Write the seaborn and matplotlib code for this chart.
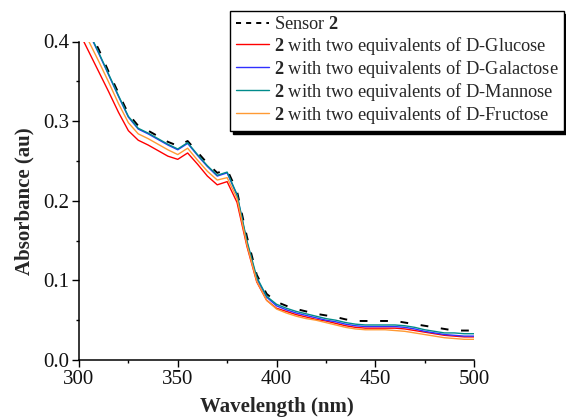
import numpy as np
import pandas as pd
import matplotlib
matplotlib.use("Agg")
import matplotlib.pyplot as plt
import seaborn as sns

wavelength = list(range(300, 505, 5))

sensor = [0.440, 0.415, 0.390, 0.362, 0.335, 0.309, 0.294, 0.288, 0.281, 0.274,
          0.269, 0.275, 0.261, 0.247, 0.235, 0.239, 0.212, 0.155, 0.107, 0.083,
          0.073, 0.068, 0.064, 0.061, 0.058, 0.056, 0.054, 0.051, 0.049, 0.049,
          0.049, 0.049, 0.049, 0.047, 0.045, 0.043, 0.041, 0.039, 0.037, 0.037, 0.037]

glucose = [0.412, 0.387, 0.362, 0.337, 0.311, 0.288, 0.276, 0.270, 0.263, 0.256,
           0.252, 0.260, 0.246, 0.231, 0.220, 0.224, 0.198, 0.143, 0.098, 0.075,
           0.065, 0.061, 0.057, 0.054, 0.051, 0.049, 0.046, 0.043, 0.041, 0.040,
           0.040, 0.040, 0.040, 0.039, 0.037, 0.035, 0.033, 0.031, 0.030, 0.029, 0.029]

galactose = [0.437, 0.411, 0.385, 0.358, 0.331, 0.305, 0.290, 0.284, 0.277, 0.270,
             0.264, 0.272, 0.257, 0.243, 0.231, 0.235, 0.207, 0.148, 0.102, 0.079,
             0.068, 0.063, 0.059, 0.056, 0.053, 0.050, 0.048, 0.045, 0.043, 0.042,
             0.042, 0.042, 0.042, 0.041, 0.039, 0.036, 0.034, 0.032, 0.031, 0.030, 0.030]

mannose = [0.438, 0.412, 0.386, 0.359, 0.332, 0.306, 0.291, 0.285, 0.278, 0.271,
           0.265, 0.273, 0.258, 0.244, 0.232, 0.236, 0.208, 0.150, 0.104, 0.080,
           0.070, 0.065, 0.061, 0.058, 0.055, 0.052, 0.050, 0.047, 0.045, 0.044,
           0.044, 0.044, 0.044, 0.043, 0.041, 0.038, 0.036, 0.034, 0.034, 0.033, 0.033]

fructose = [0.425, 0.400, 0.375, 0.349, 0.322, 0.298, 0.284, 0.278, 0.271, 0.264,
            0.258, 0.266, 0.251, 0.237, 0.226, 0.229, 0.203, 0.145, 0.099, 0.075,
            0.064, 0.059, 0.055, 0.052, 0.050, 0.047, 0.044, 0.041, 0.039, 0.038,
            0.038, 0.038, 0.037, 0.036, 0.034, 0.032, 0.030, 0.028, 0.027, 0.026, 0.026]

labels = [r"Sensor $\mathbf{2}$",
          r"$\mathbf{2}$ with two equivalents of D-Glucose",
          r"$\mathbf{2}$ with two equivalents of D-Galactose",
          r"$\mathbf{2}$ with two equivalents of D-Mannose",
          r"$\mathbf{2}$ with two equivalents of D-Fructose"]
series = [sensor, glucose, galactose, mannose, fructose]
colors = ["black", "#ff0000", "#3030ff", "#008b8b", "#ff9a33"]

sns.set_theme(style="ticks")
plt.rcParams["font.family"] = ["Liberation Serif", "DejaVu Serif"]
plt.rcParams["mathtext.fontset"] = "custom"
plt.rcParams["mathtext.rm"] = "Liberation Serif"
plt.rcParams["mathtext.bf"] = "Liberation Serif:bold"
plt.rcParams["mathtext.it"] = "Liberation Serif:italic"

frames = []
for lab, vals in zip(labels, series):
    frames.append(pd.DataFrame({"Wavelength": wavelength, "Absorbance": vals, "Sample": lab}))
df = pd.concat(frames, ignore_index=True)

fig = plt.figure(figsize=(5.66, 4.2), dpi=100)
ax = fig.add_axes([79 / 566, 60 / 420, (474 - 79) / 566, (360 - 41.5) / 420])

palette = dict(zip(labels, colors))
dashes = {lab: ((4, 6.5) if i == 0 else "") for i, lab in enumerate(labels)}
sizes = {lab: (1.4 if i == 0 else 1.0) for i, lab in enumerate(labels)}
sns.lineplot(data=df, x="Wavelength", y="Absorbance", hue="Sample", style="Sample",
             size="Sample", sizes=sizes, palette=palette, dashes=dashes,
             hue_order=labels, style_order=labels, size_order=labels,
             ax=ax, legend=True)

ax.set_xlim(300, 500)
ax.set_ylim(0, 0.4)
ax.set_xticks([300, 350, 400, 450, 500])
ax.set_xticks([325, 375, 425, 475], minor=True)
ax.set_yticks([0.0, 0.1, 0.2, 0.3, 0.4])
ax.set_yticks([0.05, 0.15, 0.25, 0.35], minor=True)
ax.yaxis.set_major_formatter(matplotlib.ticker.FormatStrFormatter("%.1f"))
ax.tick_params(axis="both", which="major", direction="out", length=5, width=1,
               labelsize=15, color="black", labelcolor="#111111", pad=2)
ax.tick_params(axis="both", which="minor", direction="out", length=2.5, width=1, color="black")
for s in ["top", "right"]:
    ax.spines[s].set_visible(False)
for s in ["left", "bottom"]:
    ax.spines[s].set_color("black")
    ax.spines[s].set_linewidth(1.1)

ax.set_xlabel("Wavelength (nm)", fontsize=15, fontweight="bold", labelpad=6)
ax.set_ylabel("Absorbance (au)", fontsize=15, fontweight="bold", labelpad=6)

handles, _ = ax.get_legend_handles_labels()
ax.get_legend().remove()
handles = handles[:5]
handles[0].set_dashes([2.6, 2.6])
leg = fig.legend(handles, labels, loc="upper right", bbox_to_anchor=(0.996, 0.974),
                 fontsize=13.2, frameon=True, fancybox=False, edgecolor="black",
                 framealpha=1, shadow={"color": "black", "alpha": 1},
                 handlelength=1.8, handletextpad=0.27, labelspacing=0.06,
                 borderpad=0.3, borderaxespad=0)
leg.get_frame().set_linewidth(1.0)

fig.savefig("out.png", dpi=100)
